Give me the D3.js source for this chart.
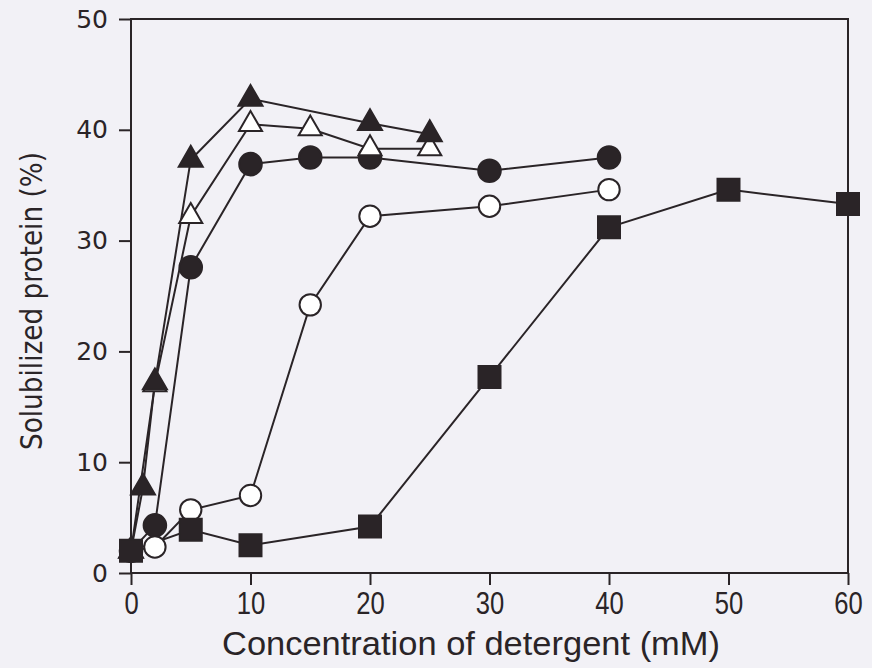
<!DOCTYPE html>
<html>
<head>
<meta charset="utf-8">
<script src="https://cdn.jsdelivr.net/npm/d3@7"></script>
<style>
  body { margin: 0; background: #f2f1f6; }
  svg { display: block; }
</style>
</head>
<body>
<svg id="chart" width="872" height="668"></svg>
<script>
// values (x = mM, y = %)
var concSquare = [0, 5, 10, 20, 30, 40, 50, 60];
var valSquare = [2.0, 3.9, 2.5, 4.2, 17.7, 31.2, 34.6, 33.3];

var concFilledCircle = [0, 2, 5, 10, 15, 20, 30, 40];
var valFilledCircle = [2.0, 4.3, 27.6, 36.9, 37.5, 37.5, 36.3, 37.5];

var concOpenCircle = [0, 2, 5, 10, 15, 20, 30, 40];
var valOpenCircle = [2.0, 2.35, 5.7, 7.0, 24.2, 32.2, 33.1, 34.6];

var concFilledTri = [0, 1, 2, 5, 10, 20, 25];
var valFilledTri = [2.0, 7.7, 17.2, 37.3, 42.8, 40.6, 39.6];

var concOpenTri = [0, 2, 5, 10, 15, 20, 25];
var valOpenTri = [2.0, 17.0, 32.2, 40.5, 40.1, 38.3, 38.3];

var xTicks = [0, 10, 20, 30, 40, 50, 60];
var yTicks = [0, 10, 20, 30, 40, 50];

var ink = "#2a2427";

var margin = {top: 19, right: 24, bottom: 95, left: 131},
    width = 848 - margin.left,
    height = 573 - margin.top;

var svg = d3.select("#chart");

var x = d3.scaleLinear().domain([0, 60]).range([margin.left, margin.left + width]);
var y = d3.scaleLinear().domain([0, 50]).range([margin.top + height, margin.top]);

function zip(xs, ys) {
  return xs.map(function(v, i) { return {x: v, y: ys[i]}; });
}

// drawing order matters: later ones sit on top
var series = [
  {name: "filledCircle", data: zip(concFilledCircle, valFilledCircle), type: d3.symbolCircle, size: 400, fill: ink},
  {name: "openCircle", data: zip(concOpenCircle, valOpenCircle), type: d3.symbolCircle, size: 360, fill: "#fff"},
  {name: "openTri", data: zip(concOpenTri, valOpenTri), type: d3.symbolTriangle, size: 230, fill: "#fff"},
  {name: "filledTri", data: zip(concFilledTri, valFilledTri), type: d3.symbolTriangle, size: 250, fill: ink},
  {name: "square", data: zip(concSquare, valSquare), type: d3.symbolSquare, size: 484, fill: ink}
];

// minor ticks first, then axes
var gx = svg.append("g")
  .attr("transform", "translate(0," + (margin.top + height) + ")");
gx.call(d3.axisBottom(x).tickValues(d3.range(5, 60, 10)).tickSize(7).tickFormat(""));
gx.call(d3.axisBottom(x).tickValues(xTicks).tickSize(12).tickPadding(6).tickFormat(d3.format("d")));
gx.select(".domain").remove();
gx.selectAll("line").attr("stroke", ink).attr("stroke-width", 2);
gx.selectAll("text")
  .attr("fill", ink)
  .attr("transform", "scale(0.8,1)")
  .style("font-family", "'Liberation Sans', Arial, sans-serif")
  .style("font-size", "32px");

var gy = svg.append("g")
  .attr("transform", "translate(" + margin.left + ",0)");
gy.call(d3.axisLeft(y).tickValues(d3.range(5, 50, 10)).tickSize(7).tickFormat(""));
gy.call(d3.axisLeft(y).tickValues(yTicks).tickSize(12).tickPadding(11).tickFormat(d3.format("d")));
gy.select(".domain").remove();
gy.selectAll("line").attr("stroke", ink).attr("stroke-width", 2);
gy.selectAll("text")
  .attr("fill", ink)
  .style("font-family", "'DejaVu Sans', sans-serif")
  .style("font-size", "25px");

// frame
svg.append("rect")
  .attr("x", x(0))
  .attr("y", y(50))
  .attr("width", x(60) - x(0))
  .attr("height", y(0) - y(50))
  .attr("fill", "none")
  .attr("stroke", ink)
  .attr("stroke-width", 2);

var line = d3.line()
  .x(function(d) { return x(d.x); })
  .y(function(d) { return y(d.y); });

svg.append("g").selectAll("path")
  .data(series)
  .enter()
  .append("path")
    .attr("d", function(d) { return line(d.data); })
    .attr("fill", "none")
    .attr("stroke", ink)
    .attr("stroke-width", 2);

series.forEach(function(s) {
  svg.append("g").selectAll("path")
    .data(s.data)
    .enter()
    .append("path")
      .attr("transform", function(d) { return "translate(" + x(d.x) + "," + y(d.y) + ")"; })
      .attr("d", d3.symbol().type(s.type).size(s.size))
      .attr("fill", s.fill)
      .attr("stroke", ink)
      .attr("stroke-width", 2);
});

// axis titles
svg.append("text")
  .attr("x", 471)
  .attr("y", 655)
  .attr("text-anchor", "middle")
  .attr("textLength", 498)
  .attr("lengthAdjust", "spacingAndGlyphs")
  .attr("fill", ink)
  .style("font-family", "'Liberation Sans', Arial, sans-serif")
  .style("font-size", "33px")
  .text("Concentration of detergent (mM)");

svg.append("text")
  .attr("transform", "translate(42,301) rotate(-90)")
  .attr("text-anchor", "middle")
  .attr("textLength", 298)
  .attr("lengthAdjust", "spacingAndGlyphs")
  .attr("fill", ink)
  .style("font-family", "'DejaVu Sans', sans-serif")
  .style("font-size", "30px")
  .text("Solubilized protein (%)");
</script>
</body>
</html>
